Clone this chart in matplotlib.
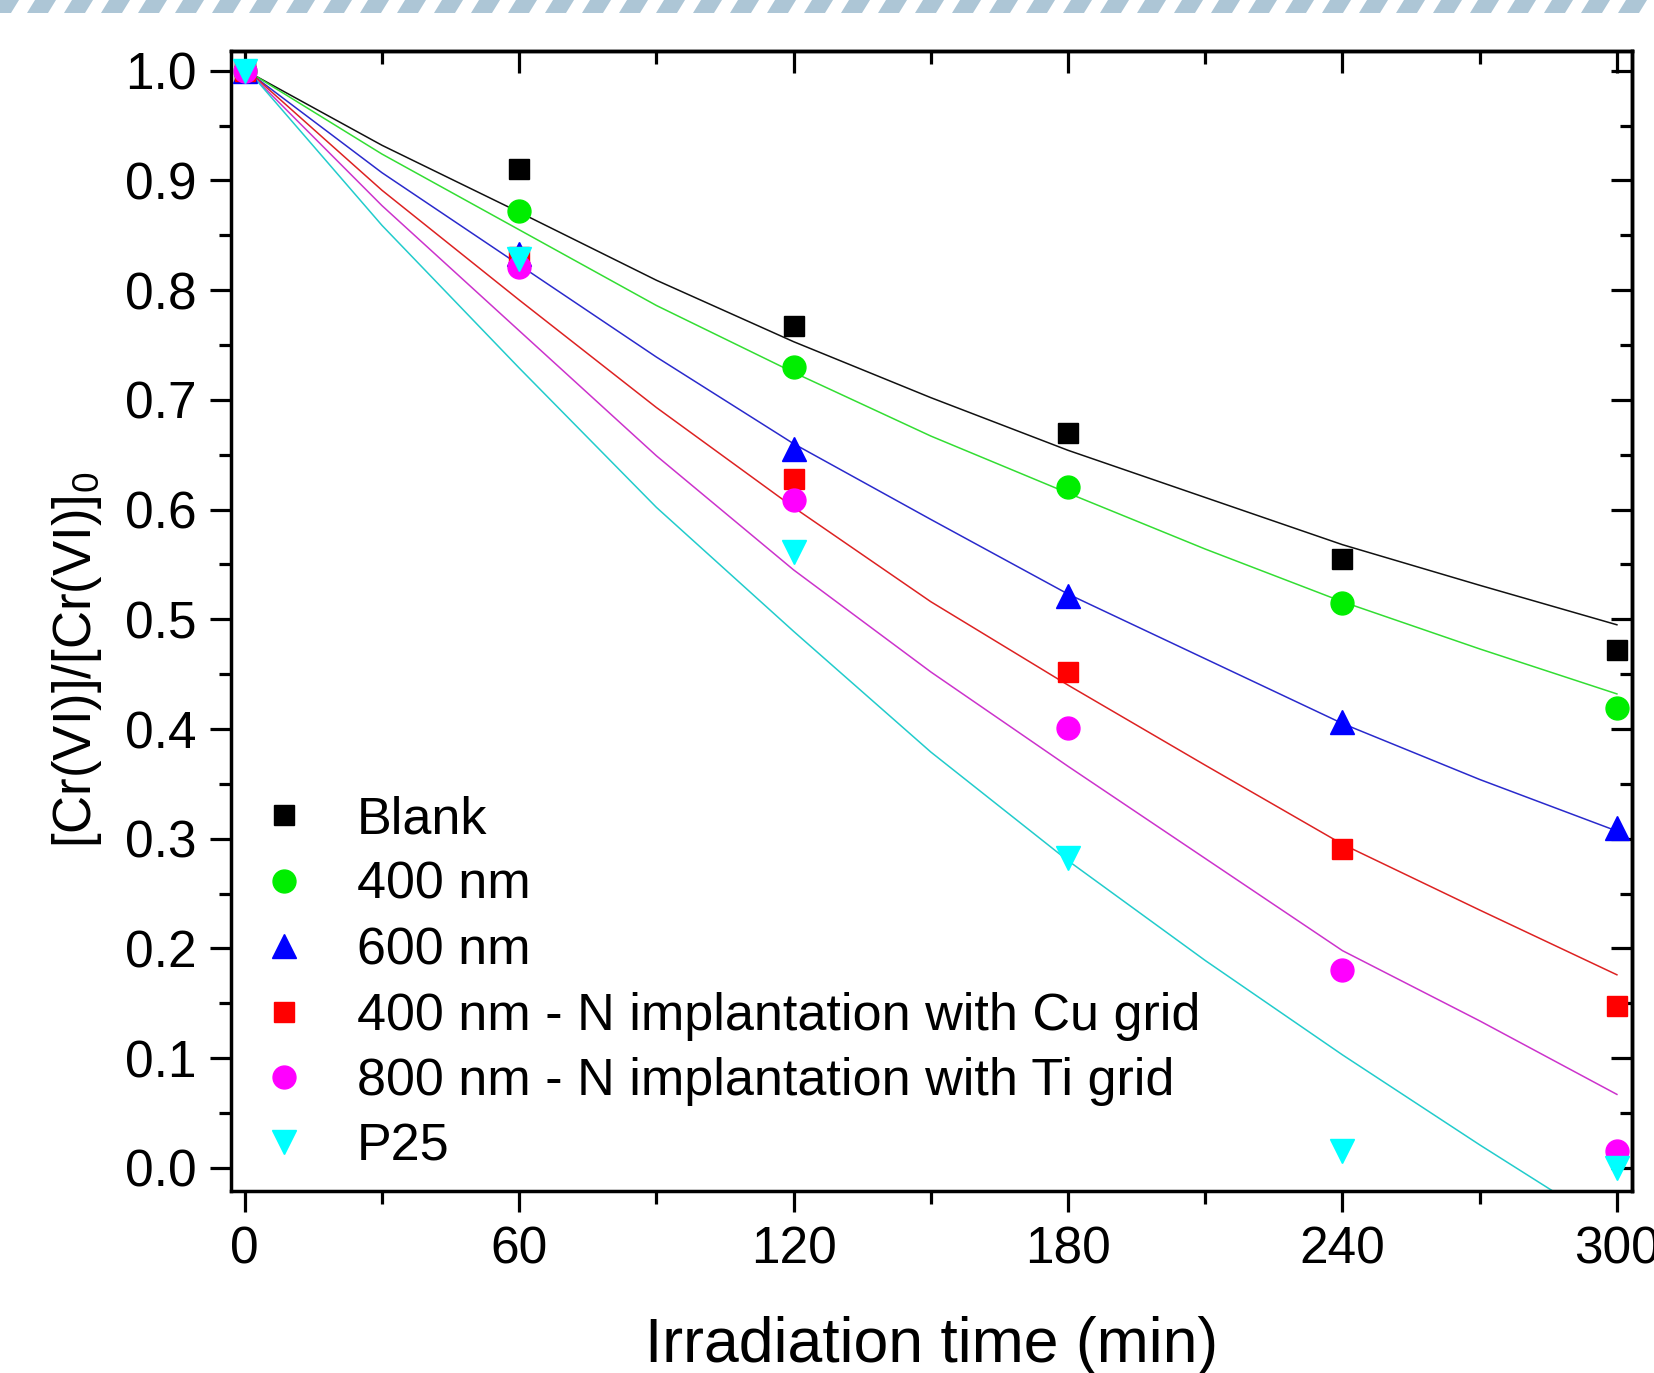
import matplotlib
matplotlib.use("Agg")
import matplotlib.pyplot as plt
from matplotlib.patches import Polygon
from matplotlib.ticker import MultipleLocator

plt.rcParams["font.family"] = ["Liberation Sans", "DejaVu Sans"]
plt.rcParams["mathtext.default"] = "regular"

# measured points
time = [0, 60, 120, 180, 240, 300]
blank = [1.0, 0.910, 0.767, 0.670, 0.555, 0.472]
nm400 = [1.0, 0.872, 0.730, 0.621, 0.515, 0.419]
nm600 = [1.0, 0.833, 0.655, 0.521, 0.406, 0.310]
cu400 = [1.0, 0.830, 0.628, 0.452, 0.291, 0.148]
ti800 = [1.0, 0.821, 0.609, 0.401, 0.180, 0.015]
p25 = [1.0, 0.828, 0.561, 0.282, 0.015, 0.0]

# fitted curves
fit_time = [2, 30, 60, 90, 120, 150, 180, 210, 240, 270, 300]
fit_blank = [0.996, 0.932, 0.871, 0.809, 0.753, 0.702, 0.654, 0.611, 0.568, 0.531, 0.495]
fit_400 = [0.996, 0.924, 0.855, 0.786, 0.725, 0.667, 0.615, 0.564, 0.516, 0.473, 0.432]
fit_600 = [0.995, 0.907, 0.823, 0.739, 0.660, 0.591, 0.523, 0.464, 0.405, 0.354, 0.307]
fit_cu = [0.995, 0.891, 0.791, 0.693, 0.602, 0.516, 0.440, 0.367, 0.295, 0.235, 0.176]
fit_ti = [0.994, 0.877, 0.763, 0.649, 0.545, 0.452, 0.366, 0.282, 0.198, 0.134, 0.067]
fit_p25 = [0.994, 0.859, 0.729, 0.602, 0.489, 0.379, 0.280, 0.189, 0.103, 0.021, -0.058]

labels = ["Blank", "400 nm", "600 nm", "400 nm - N implantation with Cu grid",
          "800 nm - N implantation with Ti grid", "P25"]
series = [blank, nm400, nm600, cu400, ti800, p25]
fits = [fit_blank, fit_400, fit_600, fit_cu, fit_ti, fit_p25]
colors = ["#000000", "#00ee00", "#0000ff", "#ff0000", "#ff00ff", "#00ffff"]
line_colors = ["#111111", "#33dd33", "#2a2acc", "#dd2222", "#cc33cc", "#22cccc"]
markers = ["s", "o", "^", "s", "o", "v"]
msizes = [15, 16.5, 17.5, 15, 16.5, 17.5]

fig = plt.figure(figsize=(16.54, 13.73), dpi=100)
ax = fig.add_axes([0.1397, 0.1326, 0.847, 0.8303])

for f, c in zip(fits, line_colors):
    ax.plot(fit_time, f, color=c, lw=1.1, zorder=2)
for s, c, m, ms, lab in zip(series, colors, markers, msizes, labels):
    ax.plot(time, s, linestyle="none", marker=m, ms=ms, color=c, mec=c, label=lab, zorder=3)

ax.set_xlim(-3.0, 303.3)
ax.set_ylim(-0.021, 1.018)
ax.xaxis.set_major_locator(MultipleLocator(60))
ax.xaxis.set_minor_locator(MultipleLocator(30))
ax.yaxis.set_major_locator(MultipleLocator(0.1))
ax.yaxis.set_minor_locator(MultipleLocator(0.05))
ax.yaxis.set_major_formatter(matplotlib.ticker.FormatStrFormatter("%.1f"))

for sp in ax.spines.values():
    sp.set_linewidth(2.5)
ax.tick_params(which="both", direction="out", width=2.3, labelsize=37, top=False, right=False)
ax.tick_params(which="major", length=15, pad=10)
ax.tick_params(which="minor", length=9)

# inward ticks on top and right
ax2 = ax.secondary_xaxis("top")
ax2.xaxis.set_major_locator(MultipleLocator(60))
ax2.xaxis.set_minor_locator(MultipleLocator(30))
ax2.tick_params(which="both", direction="in", width=2.3, labeltop=False)
ax2.tick_params(which="major", length=16)
ax2.tick_params(which="minor", length=9)
ax3 = ax.secondary_yaxis("right")
ax3.yaxis.set_major_locator(MultipleLocator(0.1))
ax3.yaxis.set_minor_locator(MultipleLocator(0.05))
ax3.tick_params(which="both", direction="in", width=2.3, labelright=False)
ax3.tick_params(which="major", length=15)
ax3.tick_params(which="minor", length=9)
for a in (ax2, ax3):
    for sp in a.spines.values():
        sp.set_linewidth(2.5)

ax.set_xlabel("Irradiation time (min)", fontsize=45, labelpad=30)
ax.set_ylabel("[Cr(VI)]/[Cr(VI)]$_0$", fontsize=38)
ax.yaxis.set_label_coords(-0.091, 0.466)

ax.legend(loc="lower left", bbox_to_anchor=(0.019, 0.017), frameon=False, fontsize=37.5,
          handlelength=1.0, handletextpad=0.9, labelspacing=0.315, borderpad=0,
          borderaxespad=0, numpoints=1)

# dashed stripe band at the top
W, H = 1654, 1373
for i in range(50):
    x0 = i * 37 - 10
    pts = [(x0, 13), (x0 + 21, 13), (x0 + 29, 0), (x0 + 8, 0)]
    fig.patches.append(Polygon([(x / W, 1 - y / H) for x, y in pts], closed=True,
                               transform=fig.transFigure, color="#adc6d6", lw=0))

fig.savefig("out.png", dpi=100)
